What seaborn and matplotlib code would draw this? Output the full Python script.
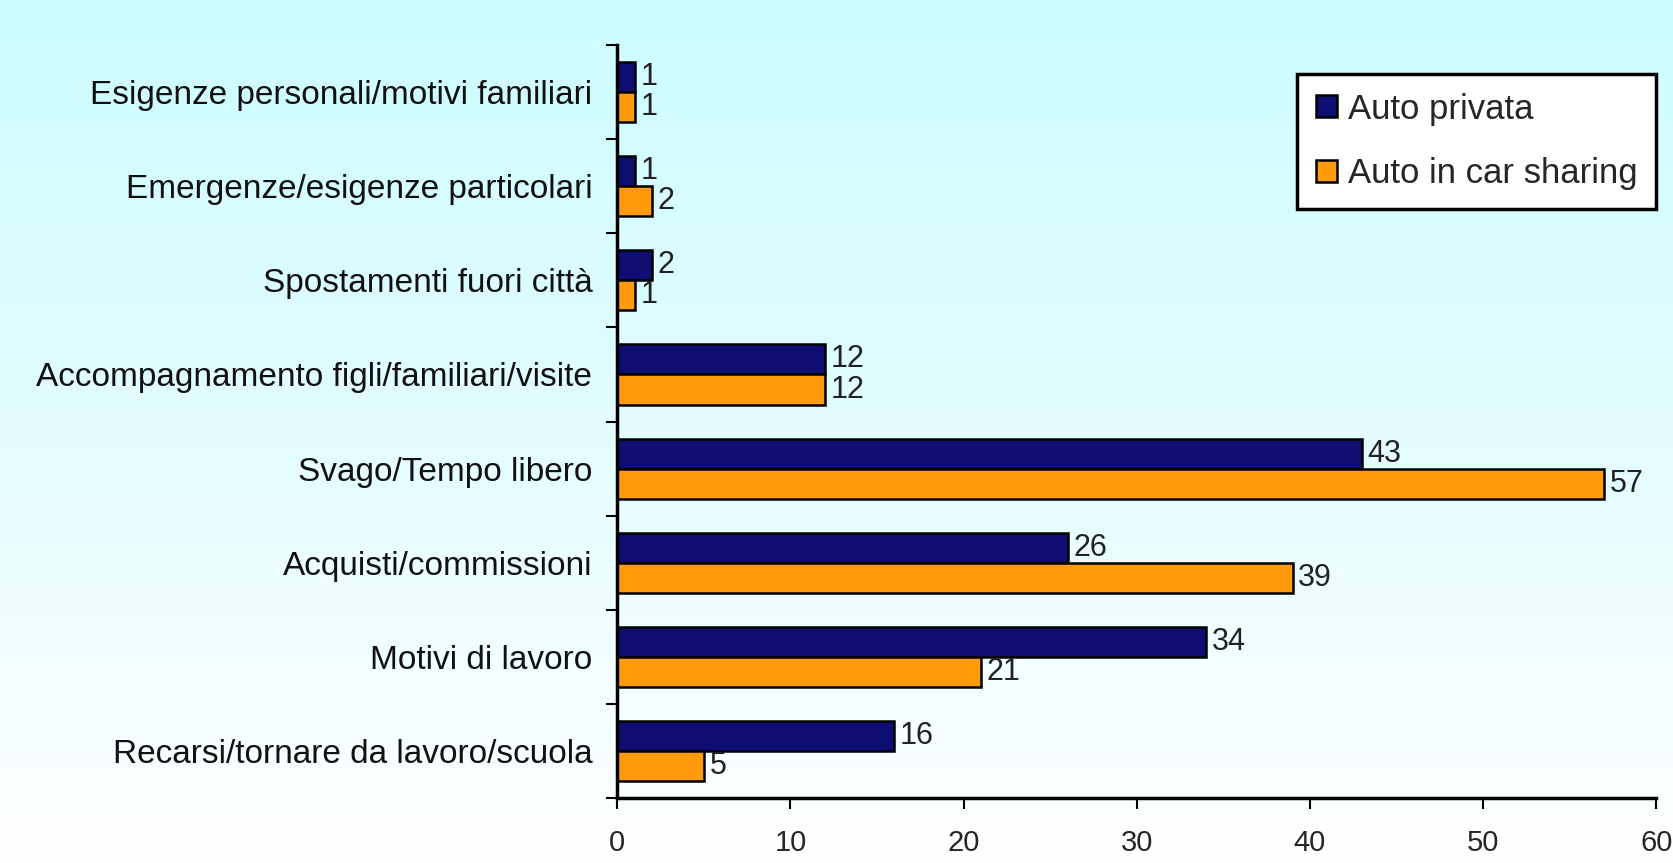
import numpy as np
import pandas as pd
import matplotlib
matplotlib.use("Agg")
import matplotlib.pyplot as plt
from matplotlib.colors import LinearSegmentedColormap
import seaborn as sns

categories = [
    "Esigenze personali/motivi familiari",
    "Emergenze/esigenze particolari",
    "Spostamenti fuori città",
    "Accompagnamento figli/familiari/visite",
    "Svago/Tempo libero",
    "Acquisti/commissioni",
    "Motivi di lavoro",
    "Recarsi/tornare da lavoro/scuola",
]
auto_privata = [1, 1, 2, 12, 43, 26, 34, 16]
auto_car_sharing = [1, 2, 1, 12, 57, 39, 21, 5]
series_names = ["Auto privata", "Auto in car sharing"]
x_ticks = [0, 10, 20, 30, 40, 50, 60]

NAVY = "#0e0e72"
ORANGE = "#ff9a0a"

sns.set_theme(style="white")
plt.rcParams["font.family"] = ["Liberation Sans", "DejaVu Sans"]

df = pd.DataFrame({
    "cat": categories * 2,
    "val": auto_privata + auto_car_sharing,
    "serie": [series_names[0]] * len(categories) + [series_names[1]] * len(categories),
})

fig = plt.figure(figsize=(16.73, 8.63), dpi=100)

# gradient background (light cyan at top -> white at bottom)
bg = fig.add_axes([0, 0, 1, 1], zorder=-10)
grad = np.linspace(0, 1, 256).reshape(-1, 1)
cmap = LinearSegmentedColormap.from_list("bg", ["#ccfcff", "#e3fdff", "#ffffff"])
bg.imshow(grad, aspect="auto", cmap=cmap, extent=[0, 1, 0, 1], origin="upper")
bg.axis("off")

ax = fig.add_axes([0.369, 0.075, 0.621, 0.873])
ax.set_facecolor("none")
sns.barplot(data=df, y="cat", x="val", hue="serie", orient="h",
            palette=[NAVY, ORANGE], width=0.64, edgecolor="black",
            linewidth=1.8, saturation=1, ax=ax)

for cont in ax.containers:
    ax.bar_label(cont, padding=4, fontsize=22, color="#222222")

ax.set_xlim(0, 60)
ax.set_ylim(len(categories) - 0.5, -0.5)
ax.set_xticks(x_ticks)
ax.set_xticklabels([str(t) for t in x_ticks], fontsize=21)
ax.set_yticks(range(len(categories)))
ax.set_yticklabels(categories, fontsize=24, color="#111111")
ax.set_yticks(np.arange(-0.5, len(categories), 1), minor=True)
ax.tick_params(axis="y", which="major", length=0, pad=18)
ax.tick_params(axis="y", which="minor", length=8, width=1.5, color="black", direction="out", left=True)
ax.tick_params(axis="x", length=8, width=1.5, color="black", direction="out", bottom=True, pad=14)
ax.set_xlabel(""); ax.set_ylabel("")
for side in ["top", "right"]:
    ax.spines[side].set_visible(False)
for side in ["left", "bottom"]:
    ax.spines[side].set_color("black")
    ax.spines[side].set_linewidth(2.5)

leg = ax.legend(loc="upper right", bbox_to_anchor=(1.0, 0.962), borderaxespad=0,
                fontsize=25, frameon=True, fancybox=False, edgecolor="black",
                framealpha=1, handlelength=0.6, handleheight=0.6,
                handletextpad=0.3, borderpad=0.55, labelspacing=0.9)
leg.get_frame().set_linewidth(2.5)

fig.savefig("out.png", dpi=100)
